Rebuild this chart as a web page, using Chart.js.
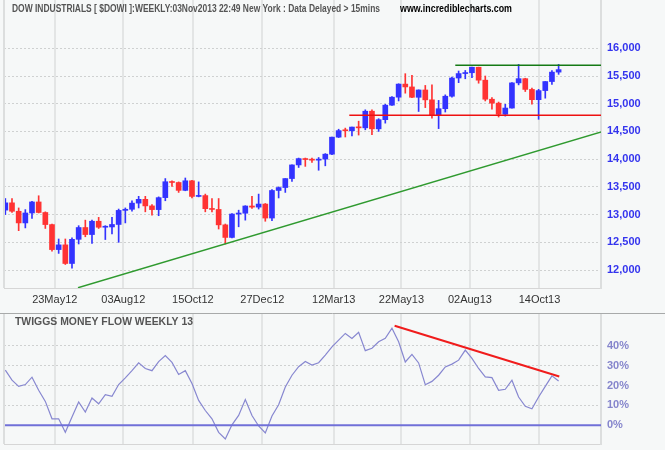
<!DOCTYPE html>
<html>
<head>
<meta charset="utf-8">
<script src="https://cdn.jsdelivr.net/npm/chart.js@4.4.0/dist/chart.umd.min.js"></script>
<style>
  html, body { margin: 0; padding: 0; background: #f6f8f8; }
  #wrap { position: relative; width: 665px; height: 450px; overflow: hidden; background: #f6f8f8; }
  #main { position: absolute; left: 0; top: 0; }
  #tmf { position: absolute; left: 0; top: 313px; }
</style>
</head>
<body>
<div id="wrap">
  <canvas id="main" width="665" height="313"></canvas>
  <canvas id="tmf" width="665" height="137"></canvas>
</div>
<script>
// weekly bars, first week ends Fri 30 Mar 2012, last ends Fri 1 Nov 2013
const firstWeek = '2012-03-30';

const open = [13081, 13212, 13060, 12850, 13029, 13228, 13038, 12820, 12369, 12454,
  12118, 12554, 12767, 12640, 12880, 12772, 12777, 12822, 13076, 13096,
  13207, 13275, 13157, 13090, 13306, 13593, 13579, 13437, 13610, 13328,
  13343, 13107, 13093, 12815, 12588, 13010, 13025, 13155, 13135, 13190,
  12938, 13435, 13488, 13650, 13896, 14010, 13993, 13982, 14001, 14090,
  14397, 14515, 14512, 14579, 14565, 14865, 14547, 14712, 14974, 15118,
  15354, 15303, 15116, 15248, 15070, 14800, 14910, 15135, 15464, 15544,
  15559, 15658, 15425, 15081, 15010, 14810, 14922, 15376, 15452, 15258,
  15073, 15237, 15400, 15570];
const high = [13290, 13290, 13120, 13090, 13240, 13340, 13050, 12830, 12560, 12560,
  12580, 12800, 12900, 12900, 12950, 12800, 12950, 13100, 13120, 13250,
  13330, 13330, 13180, 13320, 13650, 13610, 13590, 13660, 13620, 13590,
  13370, 13290, 13290, 12830, 13020, 13080, 13160, 13330, 13370, 13200,
  13450, 13500, 13650, 13900, 14020, 14020, 14020, 14030, 14100, 14400,
  14540, 14560, 14580, 14685, 14890, 14890, 14730, 14990, 15130, 15360,
  15542, 15510, 15250, 15330, 15340, 15060, 15160, 15480, 15590, 15600,
  15660, 15660, 15500, 15110, 15030, 14990, 15380, 15710, 15460, 15280,
  15260, 15400, 15600, 15710];
const low = [13000, 13040, 12710, 12760, 12930, 13030, 12750, 12340, 12300, 12100,
  12035, 12470, 12600, 12480, 12750, 12550, 12650, 12500, 12850, 13060,
  13120, 13050, 12990, 12980, 13250, 13510, 13400, 13430, 13300, 13320,
  13050, 13050, 12740, 12470, 12580, 12780, 12900, 13110, 13100, 12880,
  12890, 13300, 13400, 13600, 13850, 13870, 13940, 13800, 13880, 14080,
  14390, 14400, 14420, 14435, 14530, 14440, 14500, 14650, 14970, 15050,
  15190, 15110, 14860, 14930, 14740, 14551, 14850, 15120, 15380, 15450,
  15470, 15370, 15050, 14900, 14760, 14777, 14920, 15340, 15220, 14990,
  14719, 15100, 15350, 15530];
const close = [13212, 13060, 12850, 13029, 13228, 13038, 12820, 12369, 12454, 12118,
  12554, 12767, 12640, 12880, 12772, 12777, 12822, 13076, 13096, 13207,
  13275, 13157, 13090, 13306, 13593, 13579, 13437, 13610, 13328, 13343,
  13107, 13093, 12815, 12588, 13010, 13025, 13155, 13135, 13190, 12938,
  13435, 13488, 13650, 13896, 14010, 13993, 13982, 14001, 14090, 14397,
  14515, 14512, 14579, 14565, 14865, 14547, 14712, 14974, 15118, 15354,
  15303, 15116, 15248, 15070, 14800, 14910, 15135, 15464, 15544, 15559,
  15658, 15425, 15081, 15010, 14810, 14922, 15376, 15452, 15258, 15073,
  15237, 15400, 15570, 15615];

// Twiggs Money Flow (13 week), percent
const tmf = [27.8, 22.7, 19.6, 20.5, 24.2, 17.6, 12.0, 3.2, 3.2, -3.6,
  4.1, 11.7, 6.6, 13.7, 10.8, 15.4, 14.6, 20.5, 23.9, 27.5,
  31.5, 28.6, 27.5, 32.1, 35.1, 31.7, 25.6, 27.5, 21.0, 12.5,
  7.4, 3.2, -3.6, -7.0, 0.2, 4.9, 12.9, 4.9, -0.4, -3.9,
  4.6, 10.3, 19.3, 25.2, 29.5, 32.1, 30.3, 31.5, 35.4, 39.5,
  42.9, 46.3, 43.8, 46.9, 37.6, 38.8, 42.1, 43.8, 48.9, 42.1,
  31.9, 35.7, 31.4, 20.4, 22.1, 25.2, 29.4, 30.8, 32.8, 37.9,
  33.7, 28.6, 24.4, 24.0, 17.6, 18.1, 22.7, 14.2, 9.5, 8.3,
  14.2, 19.6, 24.9, 22.3];

const tickDates = ['2012-05-23', '2012-08-03', '2012-10-15', '2012-12-27',
  '2013-03-12', '2013-05-22', '2013-08-02', '2013-10-14'];
const tickLabels = ['23May12', '03Aug12', '15Oct12', '27Dec12',
  '12Mar13', '22May13', '02Aug13', '14Oct13'];
const priceTicks = [12000, 12500, 13000, 13500, 14000, 14500, 15000, 15500, 16000];
const tmfTicks = [0, 10, 20, 30, 40];

// drawn lines: [week, value] end points
const trendLine = [[10.9, 11681], [89.4, 14492]];
const supportLine = [[51.6, 14790], [89.4, 14790]];
const resistLine = [[67.5, 15695], [89.4, 15695]];
const tmfLine = [[58.4, 50.2], [83.1, 24.6]];

const WEEK = 7 * 864e5;
// the bar sits a little after its week's date on this chart
const tickPos = tickDates.map(d => (Date.parse(d) - Date.parse(firstWeek)) / WEEK - 0.3);

const BLUE = '#3333ff';
const RED = '#ff3333';
const BG = '#f6f8f8';
const xMin = -0.2, xMax = 89.36;

const col = open.map((o, i) => close[i] >= o ? BLUE : RED);
const pts = pairs => pairs.map(p => ({ x: p[0], y: p[1] }));

function fitText(ctx, txt, x, y, w, font, color) {
  ctx.save();
  ctx.font = font;
  ctx.fillStyle = color;
  ctx.textBaseline = 'middle';
  const m = ctx.measureText(txt).width;
  ctx.translate(x, y);
  ctx.scale(w / m, 1);
  ctx.fillText(txt, 0, 0);
  ctx.restore();
}

const bgPlugin = {
  id: 'bg',
  beforeDraw(chart) {
    const c = chart.ctx;
    c.save();
    c.fillStyle = BG;
    c.fillRect(0, 0, chart.width, chart.height);
    c.restore();
  }
};

function noPad(s) {
  s.paddingTop = 0; s.paddingBottom = 0; s.paddingLeft = 0; s.paddingRight = 0;
}

function xScale(showLabels, h) {
  return {
    type: 'linear', min: xMin, max: xMax, offset: false,
    afterBuildTicks: s => { s.ticks = tickPos.map(v => ({ value: v })); },
    afterFit: s => { s.height = h; noPad(s); },
    grid: { color: '#e3e5e5', lineWidth: 2, drawTicks: false, offset: false },
    border: { display: true, color: '#d6d6d6', width: 1 },
    ticks: {
      display: showLabels, autoSkip: false, maxRotation: 0, padding: 5,
      color: '#333', font: { family: 'Liberation Sans, Arial', size: 11 },
      callback: (v, i) => tickLabels[i]
    }
  };
}

const mainFrame = {
  id: 'mainFrame',
  afterDraw(chart) {
    const c = chart.ctx, a = chart.chartArea;
    c.save();
    c.strokeStyle = '#dcdede';
    c.lineWidth = 2;
    c.beginPath(); c.moveTo(a.left, a.top); c.lineTo(a.left, a.bottom); c.stroke();
    c.restore();
    fitText(c, 'DOW INDUSTRIALS [ $DOWI ]:WEEKLY:03Nov2013 22:49 New York : Data Delayed > 15mins',
      12, 8.5, 368, 'bold 11px Liberation Sans, Arial', '#555');
    fitText(c, 'www.incrediblecharts.com', 400, 8.5, 112, 'bold 11px Liberation Sans, Arial', '#000');
  }
};

new Chart(document.getElementById('main'), {
  type: 'bar',
  data: {
    datasets: [
      {
        type: 'bar', order: 3, grouped: false,
        data: low.map((l, i) => ({ x: i, y: [l, high[i]] })),
        backgroundColor: col, barThickness: 1
      },
      {
        type: 'bar', order: 2, grouped: false,
        data: open.map((o, i) => ({ x: i, y: [o, close[i]] })),
        backgroundColor: col, barThickness: 5, minBarLength: 1
      },
      { type: 'line', order: 1, data: pts(trendLine), borderColor: '#2f9a2f', borderWidth: 1.5, pointRadius: 0 },
      { type: 'line', order: 1, data: pts(supportLine), borderColor: '#ee1111', borderWidth: 1.5, pointRadius: 0 },
      { type: 'line', order: 1, data: pts(resistLine), borderColor: '#157a15', borderWidth: 1.5, pointRadius: 0 }
    ]
  },
  options: {
    responsive: false, animation: false,
    layout: { padding: { left: 4, top: 0, right: 0, bottom: 0 } },
    plugins: { legend: { display: false }, tooltip: { enabled: false } },
    scales: {
      x: xScale(true, 25),
      y: {
        type: 'linear', position: 'right', min: 11676, max: 16871, beginAtZero: false,
        afterBuildTicks: s => { s.ticks = priceTicks.map(v => ({ value: v })); },
        afterFit: s => { s.width = 64; noPad(s); },
        grid: { color: '#cfd1d1', lineWidth: 1, drawTicks: false },
        border: { display: true, color: '#dcdede', width: 2, dash: [2, 2] },
        ticks: {
          padding: 6, color: '#3434ee',
          font: { family: 'Liberation Sans, Arial', size: 11, weight: 'bold' },
          callback: v => v.toLocaleString('en-US')
        }
      }
    }
  },
  plugins: [bgPlugin, mainFrame]
});

const tmfFrame = {
  id: 'tmfFrame',
  afterDraw(chart) {
    const c = chart.ctx, a = chart.chartArea;
    const y0 = chart.scales.y.getPixelForValue(0);
    c.save();
    c.strokeStyle = '#7070d8';
    c.lineWidth = 2;
    c.beginPath(); c.moveTo(a.left, y0); c.lineTo(a.right, y0); c.stroke();
    c.strokeStyle = '#dcdede';
    c.beginPath(); c.moveTo(a.left, a.top); c.lineTo(a.left, a.bottom); c.stroke();
    c.strokeStyle = '#a8aaaa';
    c.lineWidth = 1;
    c.beginPath(); c.moveTo(0, 0.5); c.lineTo(chart.width, 0.5); c.stroke();
    c.restore();
    fitText(c, 'TWIGGS MONEY FLOW WEEKLY 13', 15, 9, 178, 'bold 11px Liberation Sans, Arial', '#555');
  }
};

new Chart(document.getElementById('tmf'), {
  type: 'line',
  data: {
    datasets: [
      {
        data: tmf.map((v, i) => ({ x: i, y: v })),
        borderColor: '#8787d0', borderWidth: 1.2, pointRadius: 0, tension: 0
      },
      { data: pts(tmfLine), borderColor: '#f01c1c', borderWidth: 2, pointRadius: 0 }
    ]
  },
  options: {
    responsive: false, animation: false,
    layout: { padding: { left: 4, top: 1, right: 0, bottom: 0 } },
    plugins: { legend: { display: false }, tooltip: { enabled: false } },
    scales: {
      x: xScale(false, 6),
      y: {
        type: 'linear', position: 'right', min: -9.5, max: 56.1,
        afterBuildTicks: s => { s.ticks = tmfTicks.map(v => ({ value: v })); },
        afterFit: s => { s.width = 64; noPad(s); },
        grid: { color: c => c.tick && c.tick.value === 0 ? 'rgba(0,0,0,0)' : '#cfd1d1', lineWidth: 1, drawTicks: false },
        border: { display: true, color: '#dcdede', width: 2, dash: [2, 2] },
        ticks: {
          padding: 6, color: '#8585cc',
          font: { family: 'Liberation Sans, Arial', size: 11, weight: 'bold' },
          callback: v => v + '%'
        }
      }
    }
  },
  plugins: [bgPlugin, tmfFrame]
});
</script>
</body>
</html>
